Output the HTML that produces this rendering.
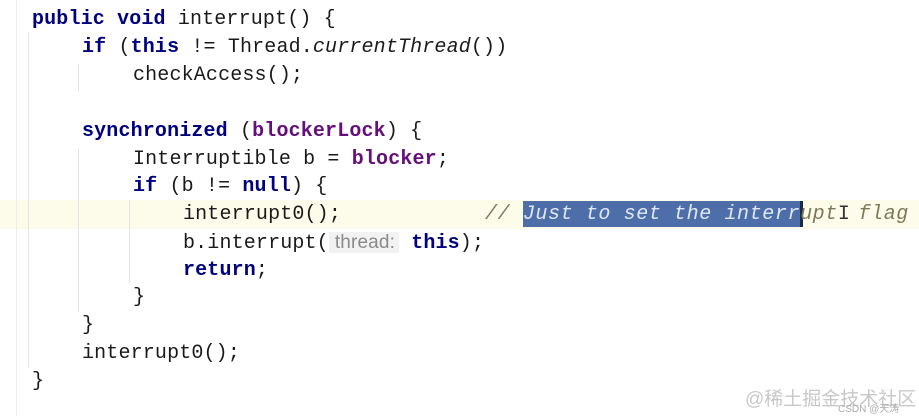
<!DOCTYPE html>
<html><head><meta charset="utf-8"><style>
body{margin:0;width:919px;height:416px;background:#fff;position:relative;overflow:hidden;font-family:"Liberation Mono",monospace;font-size:20px;color:#1a1a1a}
.l{position:absolute;white-space:pre;line-height:28px;height:28px;letter-spacing:0.15px}
.k{color:#000080;font-weight:bold}
.f{color:#660e7a;font-weight:bold}
.i{font-style:italic}
.g{position:absolute;width:1px;background:#e4e4e4}
.c{color:#808080;font-style:italic}
</style></head><body>
<div style="position:absolute;left:0;top:200px;width:919px;height:29px;background:#fdfbe9"></div>
<div class="g" style="left:16px;top:0;height:416px;background:#ececec"></div>
<div class="g" style="left:78px;top:64px;height:28px"></div>
<div class="g" style="left:78px;top:148px;height:164px"></div>
<div class="g" style="left:129px;top:200px;height:84px"></div>
<div class="g" style="left:28px;top:32px;height:336px"></div>

<div class="l" style="left:32px;top:6px"><span class="k">public void</span> interrupt() {</div>
<div class="l" style="left:82px;top:34px"><span class="k">if</span> (<span class="k">this</span> != Thread.<span class="i">currentThread</span>())</div>
<div class="l" style="left:133px;top:62px">checkAccess();</div>
<div class="l" style="left:82px;top:118px"><span class="k">synchronized</span> (<span class="f">blockerLock</span>) {</div>
<div class="l" style="left:133px;top:146px">Interruptible b = <span class="f">blocker</span>;</div>
<div class="l" style="left:133px;top:173px"><span class="k">if</span> (b != <span class="k">null</span>) {</div>
<div class="l" style="left:183px;top:201px">interrupt0();</div>
<div style="position:absolute;left:523px;top:201px;width:278px;height:26px;background:#4d6ea8"></div>
<div style="position:absolute;left:800px;top:201px;width:3px;height:26px;background:#1b2a44"></div>
<div class="l c" style="left:485px;top:201px;color:#7a7a5a;letter-spacing:0.6px">// <span style="color:#dfe8f7">Just to set the interr</span>upt<span style="font-style:normal;color:#333;letter-spacing:-4px">I</span> flag</div>
<div class="l" style="left:183px;top:229px">b.interrupt(<span style="font-family:'Liberation Sans',sans-serif;color:#8a8a8a;background:#f2f2f2;font-size:19px;padding:0 4px 0 6px">thread:</span> <span class="k">this</span>);</div>
<div class="l" style="left:183px;top:257px"><span class="k">return</span>;</div>
<div class="l" style="left:133px;top:284px">}</div>
<div class="l" style="left:82px;top:312px">}</div>
<div class="l" style="left:82px;top:340px">interrupt0();</div>
<div class="l" style="left:32px;top:368px">}</div>
<div style="position:absolute;left:745px;top:384px;font-family:'Liberation Sans','Noto Sans CJK SC',sans-serif;font-size:19px;color:#c8c8c8;white-space:nowrap">@稀土掘金技术社区</div>
<div style="position:absolute;left:838px;top:400px;font-family:'Liberation Sans','Noto Sans CJK SC',sans-serif;font-size:10px;color:#aaa;white-space:nowrap">CSDN @天涛</div>
</body></html>
